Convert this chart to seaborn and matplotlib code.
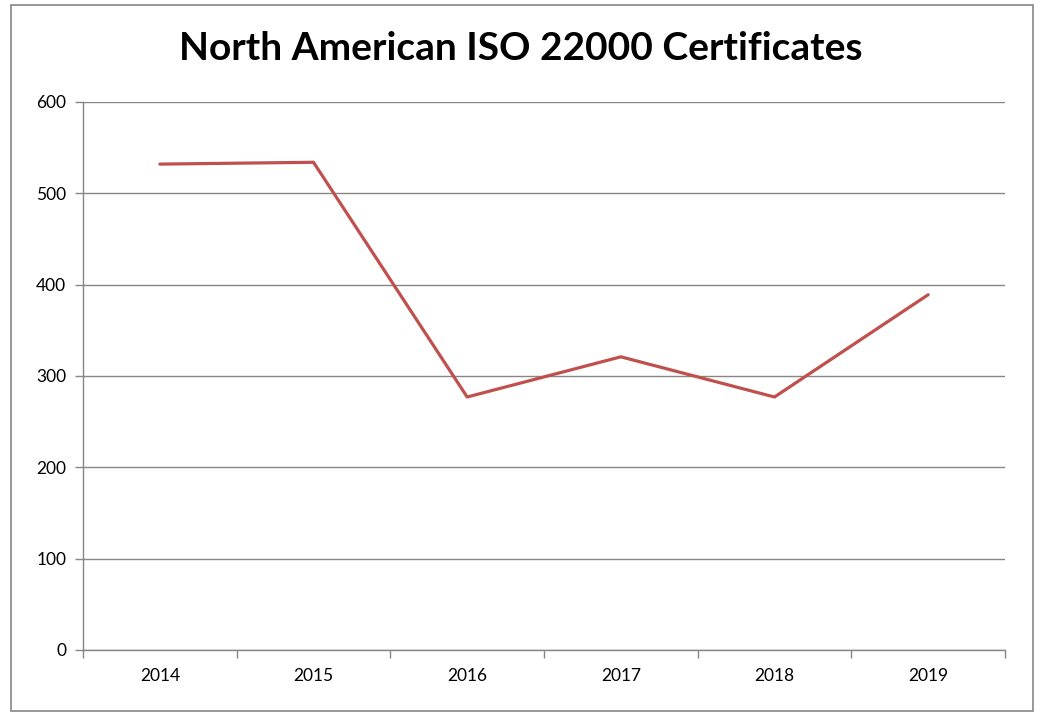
import matplotlib
matplotlib.use("Agg")
import matplotlib.pyplot as plt
import matplotlib.patches as patches
import seaborn as sns
import pandas as pd

# Chart data
years = ["2014", "2015", "2016", "2017", "2018", "2019"]
certificates = [532, 534, 277, 321, 277, 389]

df = pd.DataFrame({"pos": range(len(years)), "certs": certificates})

sns.set_style("white")
plt.rcParams["font.family"] = ["Lato", "DejaVu Sans"]

fig = plt.figure(figsize=(10.41, 7.14), dpi=100)
ax = fig.add_axes([83 / 1041, 1 - 650 / 714, (1005 - 83) / 1041, (650 - 102) / 714])

sns.lineplot(data=df, x="pos", y="certs", color="#C0504D", linewidth=2.3, ax=ax)

ax.set_xlim(-0.5, len(years) - 0.5)
ax.set_ylim(0, 600)
ax.set_yticks(range(0, 601, 100))
ax.yaxis.grid(True, color="#868686", linewidth=1)
ax.set_axisbelow(True)

# boundary ticks like Excel, labels centred on categories
ax.set_xticks([i - 0.5 for i in range(len(years) + 1)])
ax.set_xticklabels([])
ax.set_xticks(range(len(years)), minor=True)
ax.set_xticklabels(years, minor=True)
ax.tick_params(axis="x", which="major", bottom=True, length=6, color="#868686", direction="out", width=1)
ax.tick_params(axis="x", which="minor", bottom=True, length=0, pad=13, labelsize=12.5, labelcolor="black")
ax.tick_params(axis="y", left=True, length=6, color="#868686", direction="out", width=1,
               labelsize=12.5, labelcolor="black", pad=6)

for side in ["top", "right"]:
    ax.spines[side].set_visible(False)
for side in ["left", "bottom"]:
    ax.spines[side].set_color("#868686")
    ax.spines[side].set_linewidth(1)

ax.set_xlabel("")
ax.set_ylabel("")

fig.text(0.5, 1 - 49 / 714, "North American ISO 22000 Certificates",
         ha="center", va="center", fontsize=28, fontweight="bold", color="black")

# outer chart border
fig.patches.append(patches.Rectangle((11 / 1041, 1 - 711 / 714), (1033 - 11) / 1041, (711 - 5) / 714,
                                     transform=fig.transFigure, fill=False,
                                     edgecolor="#868686", linewidth=1.2))

fig.savefig("out.png", dpi=100)
